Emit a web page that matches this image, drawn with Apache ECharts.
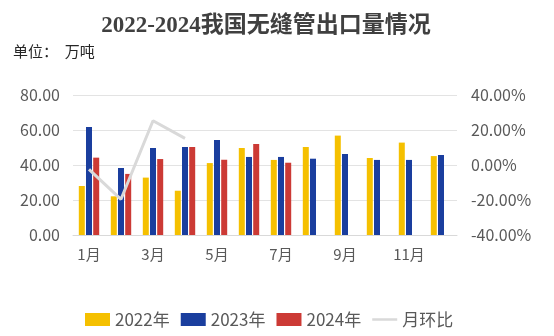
<!DOCTYPE html>
<html>
<head>
<meta charset="utf-8">
<script src="https://cdn.jsdelivr.net/npm/echarts@6/dist/echarts.min.js"></script>
<style>
  html, body { margin: 0; padding: 0; background: #fff; }
  #chart { width: 554px; height: 336px; }
</style>
</head>
<body>
<div id="chart"></div>
<script>
// Seamless pipe exports, 10k tonnes per month
const months = ['1月','2月','3月','4月','5月','6月','7月','8月','9月','10月','11月','12月'];
const exports2022 = [28.0, 22.1, 32.8, 25.3, 41.1, 49.7, 42.9, 50.3, 56.8, 44.0, 52.8, 45.1];
const exports2023 = [61.7, 38.3, 49.7, 50.3, 54.3, 44.6, 44.6, 43.6, 46.3, 42.9, 42.9, 45.7];
const exports2024 = [44.2, 34.9, 43.4, 50.3, 43.0, 52.0, 41.3, null, null, null, null, null];
// Month-on-month change (%)
const momChange = [-2.5, -19.6, 25.3, 15.2, null, null, null, null, null, null, null, null];

const leftTicks = { min: 0, max: 80, interval: 20 };
const rightTicks = { min: -40, max: 40, interval: 20 };

const textColor = '#595959';
const cjk = '"Microsoft YaHei","Noto Sans CJK SC",sans-serif';

const chart = echarts.init(document.getElementById('chart'));
chart.setOption({
  animation: false,
  title: [{
    text: '2022-2024我国无缝管出口量情况',
    left: 261, top: 10, textAlign: 'center',
    textStyle: { fontFamily: '"Liberation Serif","Noto Sans CJK SC",serif', fontSize: 23, fontWeight: 'bold', color: '#404040' }
  }, {
    text: '单位：  万吨',
    left: 8, top: 39,
    textStyle: { fontFamily: cjk, fontSize: 15, fontWeight: 'normal', color: '#262626' }
  }],
  legend: {
    left: 80, top: 306,
    itemWidth: 25, itemHeight: 13, itemGap: 11,
    textStyle: { fontFamily: cjk, fontSize: 17, color: textColor },
    data: [
      { name: '2022年', icon: 'rect' },
      { name: '2023年', icon: 'rect' },
      { name: '2024年', icon: 'rect' },
      { name: '月环比', icon: 'path://M0,0 L25,0 L25,2.5 L0,2.5 Z' }
    ]
  },
  grid: { left: 73, right: 97, top: 95, bottom: 101 },
  xAxis: {
    type: 'category',
    data: months,
    axisTick: { show: false },
    axisLine: { lineStyle: { color: '#d9d9d9' } },
    axisLabel: { interval: 1, color: textColor, fontSize: 15, fontFamily: cjk, margin: 12 }
  },
  yAxis: [{
    type: 'value',
    min: leftTicks.min, max: leftTicks.max, interval: leftTicks.interval,
    axisLabel: { formatter: v => v.toFixed(2), color: textColor, fontSize: 16, fontFamily: cjk, margin: 13 },
    splitLine: { lineStyle: { color: '#e3e3e3' } },
    axisLine: { show: false }, axisTick: { show: false }
  }, {
    type: 'value',
    min: rightTicks.min, max: rightTicks.max, interval: rightTicks.interval,
    axisLabel: { formatter: v => v.toFixed(2) + '%', color: textColor, fontSize: 16, fontFamily: cjk, margin: 14 },
    splitLine: { show: false },
    axisLine: { show: false }, axisTick: { show: false }
  }],
  series: [
    { name: '2022年', type: 'bar', data: exports2022, barWidth: 6, barGap: '20%', itemStyle: { color: '#F5C000' } },
    { name: '2023年', type: 'bar', data: exports2023, barWidth: 6, barGap: '20%', itemStyle: { color: '#1A3E9E' } },
    { name: '2024年', type: 'bar', data: exports2024, barWidth: 6, barGap: '20%', itemStyle: { color: '#CC3A35' } },
    { name: '月环比', type: 'line', yAxisIndex: 1, data: momChange, showSymbol: false, symbol: 'none',
      lineStyle: { color: '#D9D9D9', width: 3 }, itemStyle: { color: '#D9D9D9' } }
  ]
});
</script>
</body>
</html>
